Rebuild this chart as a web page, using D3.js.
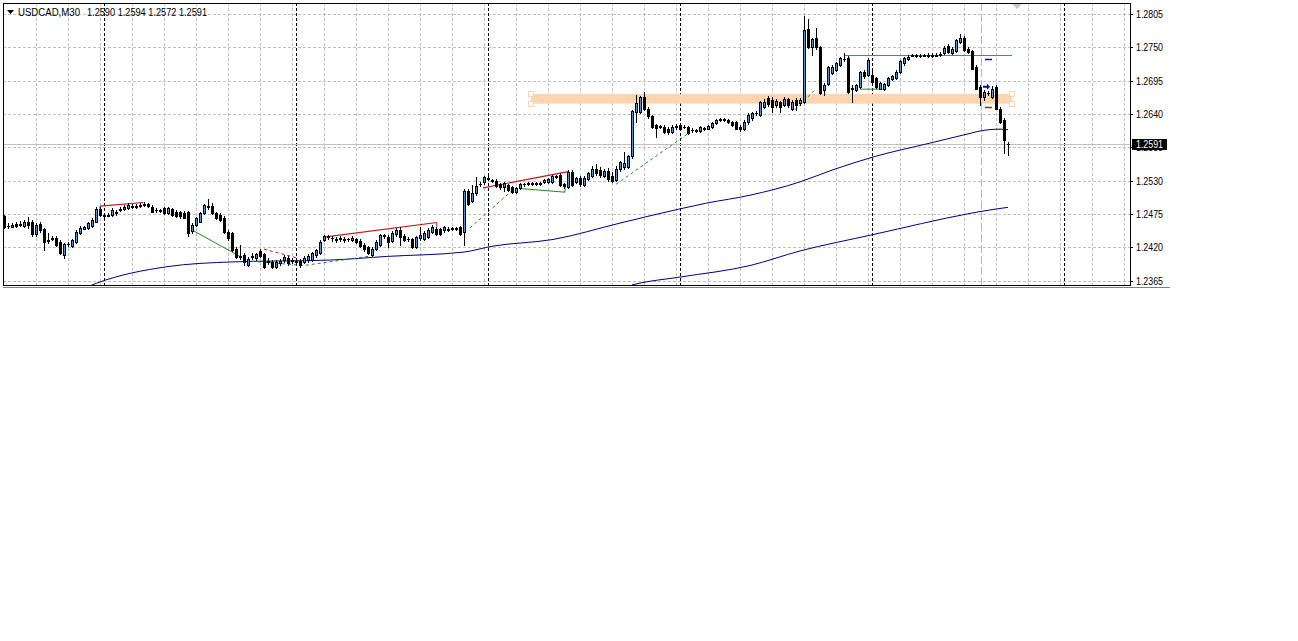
<!DOCTYPE html>
<html>
<head>
<meta charset="utf-8">
<script src="https://cdn.jsdelivr.net/npm/d3@7/dist/d3.min.js"></script>
<style>
  body { margin: 0; background: #fff; }
  svg { display: block; }
  text { font-family: "Liberation Sans", Arial, sans-serif; font-size: 10px; fill: #000; }
</style>
</head>
<body>
<svg id="chart" width="1298" height="641"></svg>
<script>
// USDCAD M30, one row per bar: [open, high, low, close]
const candles = [
  [1.2471,1.2473,1.2452,1.2454],[1.2456,1.2460,1.2452,1.2455],[1.2454,1.2460,1.2453,1.2457],[1.2459,1.2462,1.2454,1.2456],
  [1.2457,1.2463,1.2455,1.2459],[1.2456,1.2465,1.2454,1.2462],[1.2462,1.2470,1.2452,1.2457],[1.2462,1.2465,1.2439,1.2442],
  [1.2442,1.2460,1.2439,1.2457],[1.2458,1.2462,1.2445,1.2449],[1.2450,1.2452,1.2416,1.2429],[1.2432,1.2444,1.2427,1.2431],
  [1.2434,1.2439,1.2432,1.2436],[1.2435,1.2439,1.2422,1.2424],[1.2429,1.2432,1.2409,1.2411],[1.2407,1.2427,1.2403,1.2426],
  [1.2425,1.2429,1.2422,1.2426],[1.2423,1.2434,1.2421,1.2432],[1.2429,1.2449,1.2427,1.2446],[1.2443,1.2455,1.2442,1.2452],
  [1.2451,1.2455,1.2450,1.2454],[1.2452,1.2462,1.2450,1.2460],[1.2456,1.2468,1.2454,1.2465],[1.2462,1.2487,1.2461,1.2484],
  [1.2483,1.2487,1.2472,1.2473],[1.2473,1.2477,1.2470,1.2472],[1.2472,1.2477,1.2471,1.2474],[1.2474,1.2485,1.2472,1.2482],
  [1.2478,1.2482,1.2473,1.2477],[1.2481,1.2487,1.2480,1.2483],[1.2483,1.2490,1.2481,1.2487],[1.2485,1.2493,1.2483,1.2490],
  [1.2489,1.2492,1.2485,1.2487],[1.2487,1.2492,1.2485,1.2488],[1.2488,1.2493,1.2486,1.2490],[1.2490,1.2494,1.2488,1.2491],
  [1.2491,1.2493,1.2487,1.2489],[1.2487,1.2490,1.2478,1.2479],[1.2481,1.2485,1.2478,1.2482],[1.2482,1.2484,1.2478,1.2480],
  [1.2485,1.2487,1.2475,1.2477],[1.2477,1.2487,1.2475,1.2485],[1.2483,1.2485,1.2472,1.2473],[1.2478,1.2482,1.2470,1.2472],
  [1.2478,1.2480,1.2469,1.2471],[1.2477,1.2480,1.2468,1.2469],[1.2478,1.2480,1.2438,1.2443],[1.2447,1.2460,1.2444,1.2457],
  [1.2457,1.2470,1.2455,1.2468],[1.2462,1.2478,1.2461,1.2476],[1.2476,1.2492,1.2475,1.2490],[1.2488,1.2500,1.2483,1.2487],
  [1.2489,1.2493,1.2475,1.2476],[1.2476,1.2478,1.2467,1.2469],[1.2473,1.2477,1.2463,1.2465],[1.2469,1.2472,1.2444,1.2446],
  [1.2446,1.2449,1.2432,1.2435],[1.2443,1.2445,1.2414,1.2416],[1.2418,1.2421,1.2402,1.2404],[1.2405,1.2424,1.2401,1.2404],
  [1.2407,1.2411,1.2391,1.2396],[1.2391,1.2404,1.2389,1.2401],[1.2404,1.2411,1.2401,1.2405],[1.2402,1.2411,1.2399,1.2409],
  [1.2414,1.2417,1.2404,1.2406],[1.2409,1.2411,1.2386,1.2388],[1.2398,1.2402,1.2393,1.2396],[1.2396,1.2399,1.2386,1.2388],
  [1.2388,1.2399,1.2386,1.2396],[1.2394,1.2401,1.2391,1.2398],[1.2399,1.2407,1.2396,1.2404],[1.2403,1.2406,1.2391,1.2394],
  [1.2399,1.2402,1.2394,1.2397],[1.2397,1.2401,1.2393,1.2396],[1.2398,1.2401,1.2388,1.2391],[1.2396,1.2406,1.2394,1.2403],
  [1.2399,1.2409,1.2396,1.2406],[1.2399,1.2412,1.2397,1.2410],[1.2407,1.2417,1.2404,1.2416],[1.2410,1.2432,1.2409,1.2429],
  [1.2432,1.2440,1.2430,1.2438],[1.2437,1.2440,1.2434,1.2438],[1.2436,1.2439,1.2431,1.2435],[1.2434,1.2437,1.2429,1.2432],
  [1.2433,1.2438,1.2430,1.2435],[1.2434,1.2437,1.2429,1.2432],[1.2433,1.2436,1.2430,1.2434],[1.2432,1.2438,1.2430,1.2436],
  [1.2434,1.2435,1.2427,1.2429],[1.2431,1.2433,1.2421,1.2422],[1.2424,1.2427,1.2414,1.2417],[1.2420,1.2422,1.2409,1.2410],
  [1.2407,1.2421,1.2406,1.2418],[1.2417,1.2432,1.2416,1.2429],[1.2424,1.2442,1.2422,1.2440],[1.2438,1.2442,1.2435,1.2440],
  [1.2437,1.2440,1.2421,1.2429],[1.2431,1.2447,1.2429,1.2444],[1.2442,1.2452,1.2439,1.2449],[1.2448,1.2454,1.2424,1.2437],
  [1.2439,1.2442,1.2430,1.2432],[1.2434,1.2437,1.2430,1.2433],[1.2433,1.2435,1.2419,1.2420],[1.2420,1.2439,1.2419,1.2437],
  [1.2435,1.2454,1.2432,1.2440],[1.2434,1.2447,1.2432,1.2443],[1.2437,1.2452,1.2435,1.2449],[1.2446,1.2457,1.2444,1.2453],
  [1.2451,1.2454,1.2440,1.2442],[1.2450,1.2452,1.2440,1.2442],[1.2448,1.2455,1.2445,1.2453],[1.2449,1.2454,1.2447,1.2450],
  [1.2451,1.2454,1.2448,1.2452],[1.2452,1.2454,1.2448,1.2451],[1.2453,1.2455,1.2440,1.2442],[1.2446,1.2516,1.2424,1.2513],
  [1.2513,1.2516,1.2490,1.2492],[1.2497,1.2523,1.2495,1.2509],[1.2509,1.2536,1.2506,1.2521],[1.2524,1.2528,1.2521,1.2525],
  [1.2527,1.2538,1.2525,1.2536],[1.2534,1.2537,1.2531,1.2533],[1.2531,1.2533,1.2528,1.2530],[1.2530,1.2533,1.2520,1.2521],
  [1.2524,1.2526,1.2516,1.2519],[1.2520,1.2528,1.2513,1.2526],[1.2523,1.2525,1.2513,1.2515],[1.2520,1.2522,1.2510,1.2512],
  [1.2512,1.2520,1.2510,1.2518],[1.2518,1.2526,1.2516,1.2524],[1.2524,1.2526,1.2521,1.2525],[1.2526,1.2528,1.2523,1.2525],
  [1.2525,1.2528,1.2523,1.2526],[1.2526,1.2528,1.2523,1.2525],[1.2525,1.2528,1.2523,1.2526],[1.2527,1.2533,1.2526,1.2531],
  [1.2528,1.2534,1.2526,1.2532],[1.2528,1.2539,1.2526,1.2537],[1.2537,1.2540,1.2534,1.2536],[1.2540,1.2543,1.2521,1.2523],
  [1.2524,1.2526,1.2518,1.2521],[1.2520,1.2548,1.2518,1.2544],[1.2545,1.2547,1.2521,1.2523],[1.2528,1.2536,1.2526,1.2534],
  [1.2535,1.2538,1.2521,1.2524],[1.2523,1.2538,1.2521,1.2535],[1.2533,1.2544,1.2531,1.2542],[1.2538,1.2554,1.2536,1.2549],
  [1.2550,1.2558,1.2539,1.2542],[1.2548,1.2553,1.2536,1.2539],[1.2538,1.2549,1.2536,1.2546],[1.2546,1.2551,1.2529,1.2533],
  [1.2537,1.2544,1.2528,1.2530],[1.2531,1.2554,1.2529,1.2550],[1.2549,1.2562,1.2546,1.2560],[1.2552,1.2578,1.2549,1.2559],
  [1.2553,1.2573,1.2551,1.2570],[1.2570,1.2647,1.2567,1.2645],[1.2644,1.2671,1.2627,1.2658],[1.2644,1.2670,1.2641,1.2668],
  [1.2668,1.2676,1.2647,1.2649],[1.2649,1.2652,1.2633,1.2636],[1.2636,1.2638,1.2617,1.2619],[1.2622,1.2624,1.2602,1.2617],
  [1.2619,1.2622,1.2617,1.2620],[1.2619,1.2622,1.2609,1.2611],[1.2616,1.2619,1.2607,1.2610],[1.2611,1.2622,1.2609,1.2619],
  [1.2620,1.2624,1.2616,1.2619],[1.2622,1.2624,1.2614,1.2616],[1.2619,1.2622,1.2617,1.2618],[1.2619,1.2621,1.2607,1.2609],
  [1.2614,1.2617,1.2611,1.2613],[1.2612,1.2616,1.2611,1.2614],[1.2612,1.2620,1.2610,1.2618],[1.2617,1.2619,1.2614,1.2616],
  [1.2616,1.2622,1.2615,1.2620],[1.2619,1.2627,1.2617,1.2625],[1.2625,1.2632,1.2623,1.2630],[1.2630,1.2633,1.2628,1.2631],
  [1.2631,1.2633,1.2628,1.2630],[1.2630,1.2632,1.2625,1.2626],[1.2627,1.2629,1.2620,1.2622],[1.2626,1.2628,1.2615,1.2616],
  [1.2619,1.2622,1.2612,1.2615],[1.2615,1.2630,1.2614,1.2627],[1.2626,1.2642,1.2623,1.2638],[1.2633,1.2643,1.2630,1.2641],
  [1.2641,1.2645,1.2638,1.2642],[1.2638,1.2661,1.2637,1.2659],[1.2652,1.2665,1.2650,1.2660],[1.2666,1.2670,1.2654,1.2657],
  [1.2663,1.2668,1.2643,1.2652],[1.2655,1.2665,1.2652,1.2662],[1.2659,1.2661,1.2643,1.2651],[1.2655,1.2668,1.2653,1.2664],
  [1.2664,1.2666,1.2652,1.2655],[1.2649,1.2663,1.2647,1.2660],[1.2663,1.2666,1.2647,1.2655],[1.2658,1.2666,1.2655,1.2663],
  [1.2660,1.2801,1.2658,1.2778],[1.2780,1.2796,1.2749,1.2751],[1.2751,1.2765,1.2737,1.2763],[1.2765,1.2782,1.2748,1.2750],
  [1.2750,1.2752,1.2673,1.2674],[1.2680,1.2691,1.2671,1.2688],[1.2689,1.2719,1.2688,1.2717],[1.2708,1.2721,1.2706,1.2718],
  [1.2713,1.2726,1.2711,1.2724],[1.2721,1.2734,1.2719,1.2732],[1.2731,1.2740,1.2727,1.2730],[1.2732,1.2736,1.2675,1.2676],
  [1.2682,1.2688,1.2659,1.2683],[1.2680,1.2690,1.2678,1.2688],[1.2685,1.2711,1.2683,1.2709],[1.2710,1.2713,1.2699,1.2702],
  [1.2704,1.2732,1.2703,1.2729],[1.2704,1.2716,1.2691,1.2693],[1.2699,1.2701,1.2683,1.2685],[1.2682,1.2693,1.2681,1.2691],
  [1.2681,1.2691,1.2680,1.2689],[1.2688,1.2701,1.2686,1.2699],[1.2698,1.2704,1.2696,1.2702],[1.2699,1.2713,1.2698,1.2710],
  [1.2710,1.2729,1.2708,1.2727],[1.2724,1.2734,1.2721,1.2732],[1.2731,1.2737,1.2729,1.2734],[1.2736,1.2739,1.2735,1.2737],
  [1.2737,1.2739,1.2734,1.2736],[1.2736,1.2739,1.2734,1.2736],[1.2736,1.2739,1.2735,1.2737],[1.2737,1.2740,1.2734,1.2736],
  [1.2736,1.2740,1.2734,1.2737],[1.2736,1.2741,1.2735,1.2737],[1.2737,1.2742,1.2736,1.2739],[1.2740,1.2752,1.2739,1.2749],
  [1.2753,1.2755,1.2741,1.2743],[1.2740,1.2751,1.2739,1.2748],[1.2744,1.2764,1.2742,1.2762],[1.2759,1.2772,1.2757,1.2766],
  [1.2766,1.2769,1.2744,1.2746],[1.2748,1.2750,1.2741,1.2743],[1.2744,1.2746,1.2714,1.2715],[1.2718,1.2721,1.2681,1.2682],
  [1.2685,1.2688,1.2655,1.2668],[1.2668,1.2679,1.2663,1.2677],[1.2674,1.2678,1.2671,1.2675],[1.2668,1.2686,1.2666,1.2682],
  [1.2685,1.2688,1.2648,1.2649],[1.2649,1.2652,1.2625,1.2627],[1.2630,1.2633,1.2575,1.2597],[1.2590,1.2594,1.2572,1.2591]
];

// price scale labels and levels
const priceTicks = [1.2805, 1.2750, 1.2695, 1.2640, 1.2585, 1.2530, 1.2475, 1.2420, 1.2365];
const bidPrice = 1.2591;
const daySeparators = [25, 73, 121, 169, 217, 265];   // first bar of each day (last one in the shift area)
const gridBars = d3.range(8, 281, 8);

// moving averages, [bar, price]
const maFast = [[22,1.2358],[23.2,1.2361],[40.7,1.2388],[57.25,1.2396],[81.5,1.2399],[95.7,1.2405],[114.75,1.2412],
  [122.25,1.2422],[137.25,1.2433],[154,1.2460],[161.5,1.2472],[175.7,1.2493],[186.5,1.2506],[199,1.2528],
  [207.25,1.2548],[217.25,1.2569],[231.5,1.2592],[241.5,1.2608],[244,1.2612],[249,1.2615],[251,1.2614]];
const maSlow = [[157,1.2358],[159,1.2361],[169,1.2371],[186.5,1.2390],[199,1.2414],[217.25,1.2441],
  [241.5,1.2476],[244,1.2479],[251,1.2486]];

// objects drawn on the chart
const zoneBars = [131.75, 252];
const zonePrices = [1.2657, 1.2673];
const levelGreen = {bars: [210.25, 252], price: 1.2737};
const redLines = [
  [[24,1.2488],[34.8,1.2494]],
  [[80,1.2437],[108.2,1.2461]],
  [[119.75,1.2518],[141,1.2545]]
];
const redTicks = [[24,1.2488,1.2481],[108.2,1.2461,1.2454]];
const redDashed = [[65,1.2417],[73,1.2403]];
const greenSolid = [
  [[46.9,1.2449],[59,1.2405]],
  [[129,1.2517],[140.25,1.2511],[140.25,1.2520]],
  [[214,1.2681],[220.25,1.2681]]
];
const greenDashed = [
  [[62,1.2397],[75,1.2390],[92,1.2406]],
  [[116.5,1.2452],[127.25,1.2515]],
  [[153,1.2524],[171.5,1.2610]],
  [[197.75,1.2647],[202.75,1.2680]]
];
const tradeBars = [245.25, 247];
const tradeLevels = {tp: 1.2731, sl: 1.2651, entry: 1.2685};
const markerBar = 244.25;
const shiftBar = 253.25;
const symbol = "USDCAD,M30";
const ohlcText = "1.2590 1.2594 1.2572 1.2591";

const svg = d3.select("#chart");

const plotL = 3, plotT = 3, plotR = 1130, plotB = 285;
const x = d3.scaleLinear().domain([0, 251]).range([4, 1008]);
const y = d3.scaleLinear().domain([1.2365, 1.2805]).range([280.67, 14]);
const px = v => Math.round(x(v));
const py = v => Math.round(y(v));

svg.append("rect").attr("width", 1298).attr("height", 641).attr("fill", "#fff");

svg.append("defs").append("clipPath").attr("id", "plot")
   .append("rect").attr("x", plotL + 1).attr("y", plotT + 1)
   .attr("width", plotR - plotL - 1).attr("height", plotB - plotT - 1);

const plot = svg.append("g").attr("clip-path", "url(#plot)");

// grid
plot.append("g").selectAll("line").data(priceTicks).join("line")
    .attr("x1", plotL).attr("x2", plotR)
    .attr("y1", d => py(d) + 0.5).attr("y2", d => py(d) + 0.5)
    .attr("stroke", "#c0c0c0").attr("stroke-dasharray", "3,2");
plot.append("g").selectAll("line").data(gridBars).join("line")
    .attr("x1", d => px(d) + 0.5).attr("x2", d => px(d) + 0.5)
    .attr("y1", plotT).attr("y2", plotB)
    .attr("stroke", "#c0c0c0").attr("stroke-dasharray", "3,2");

// day separators
plot.append("g").selectAll("line").data(daySeparators).join("line")
    .attr("x1", d => px(d) + 0.5).attr("x2", d => px(d) + 0.5)
    .attr("y1", plotT).attr("y2", plotB)
    .attr("stroke", "#000").attr("stroke-dasharray", "3,2");

// zone rectangle
plot.append("rect")
    .attr("x", x(zoneBars[0])).attr("width", x(zoneBars[1]) - x(zoneBars[0]))
    .attr("y", y(zonePrices[1])).attr("height", y(zonePrices[0]) - y(zonePrices[1]))
    .attr("fill", "#fcd5b0");
[zoneBars[0], zoneBars[1]].forEach(b => {
  [zonePrices[1], zonePrices[0]].forEach(p => {
    plot.append("rect").attr("x", Math.round(x(b)) - 2.5).attr("y", Math.round(y(p)) - 2.5)
        .attr("width", 5).attr("height", 5)
        .attr("fill", "#fff").attr("stroke", "#fcd5b0");
  });
});

// bid line
plot.append("line").attr("x1", plotL).attr("x2", plotR)
    .attr("y1", py(bidPrice) + 0.5).attr("y2", py(bidPrice) + 0.5)
    .attr("stroke", "#c0c0c0");

// vertical marker line
plot.append("line").attr("x1", px(markerBar) + 0.5).attr("x2", px(markerBar) + 0.5)
    .attr("y1", plotT).attr("y2", plotB)
    .attr("stroke", "#e6a0a0").attr("stroke-dasharray", "8,3");

const line = d3.line().x(d => x(d[0])).y(d => y(d[1]));
const smooth = d3.line().curve(d3.curveMonotoneX).x(d => x(d[0])).y(d => y(d[1]));

// moving averages
[maFast, maSlow].forEach(ma => {
  plot.append("path").datum(ma).attr("d", smooth)
      .attr("fill", "none").attr("stroke", "#000080").attr("stroke-width", 1);
});

// trend lines
plot.append("g").selectAll("path").data(redLines).join("path")
    .attr("d", line).attr("fill", "none").attr("stroke", "#c0161c").attr("stroke-width", 1.2);
plot.append("g").selectAll("line").data(redTicks).join("line")
    .attr("x1", d => x(d[0])).attr("x2", d => x(d[0]))
    .attr("y1", d => y(d[1])).attr("y2", d => y(d[2]))
    .attr("stroke", "#c0161c");
plot.append("path").datum(redDashed).attr("d", line)
    .attr("fill", "none").attr("stroke", "#c0161c").attr("stroke-dasharray", "3,3");
plot.append("g").selectAll("path").data(greenSolid).join("path")
    .attr("d", line).attr("fill", "none").attr("stroke", "#1f8a1f");
plot.append("g").selectAll("path").data(greenDashed).join("path")
    .attr("d", line).attr("fill", "none").attr("stroke", "#1f8a1f").attr("stroke-dasharray", "3,3");

plot.append("line")
    .attr("x1", x(levelGreen.bars[0])).attr("x2", x(levelGreen.bars[1]))
    .attr("y1", py(levelGreen.price) + 0.5).attr("y2", py(levelGreen.price) + 0.5)
    .attr("stroke", "#2e9e5b");

// candles
const bars = plot.append("g").attr("shape-rendering", "crispEdges");
candles.forEach((c, i) => {
  const [o, h, l, cl] = c;
  const cx = px(i);
  const hi = py(h), lo = py(l);
  bars.append("rect").attr("x", cx).attr("y", hi).attr("width", 1).attr("height", lo - hi + 1).attr("fill", "#000");
  const t = py(Math.max(o, cl)), b = py(Math.min(o, cl));
  bars.append("rect").attr("x", cx - 1).attr("y", t).attr("width", 3).attr("height", Math.max(1, b - t + 1)).attr("fill", "#000");
  if (cl > o && b - t >= 2) {
    bars.append("rect").attr("x", cx).attr("y", t + 1).attr("width", 1).attr("height", b - t - 1).attr("fill", "#5b8fd0");
  }
});

// trade markers
plot.append("line").attr("x1", x(tradeBars[0])).attr("x2", x(tradeBars[1]))
    .attr("y1", py(tradeLevels.tp) + 0.5).attr("y2", py(tradeLevels.tp) + 0.5)
    .attr("stroke", "#0000c8").attr("stroke-width", 1.5);
plot.append("line").attr("x1", x(tradeBars[0])).attr("x2", x(tradeBars[1]))
    .attr("y1", py(tradeLevels.sl) + 0.5).attr("y2", py(tradeLevels.sl) + 0.5)
    .attr("stroke", "#e00000").attr("stroke-width", 1.5);
{
  const ax = x(tradeBars[0]), ay = y(tradeLevels.entry);
  plot.append("path")
      .attr("d", `M${ax - 2},${ay - 1}L${ax + 2},${ay - 1}L${ax + 2},${ay - 3}L${ax + 5},${ay}L${ax + 2},${ay + 3}L${ax + 2},${ay + 1}L${ax - 2},${ay + 1}Z`)
      .attr("fill", "#0000e0");
}

// chart shift marker
{
  const sx = x(shiftBar);
  svg.append("path").attr("d", `M${sx - 5},${plotT + 1}L${sx + 5},${plotT + 1}L${sx},${plotT + 6}Z`).attr("fill", "#c8c8c8");
}

// frame
svg.append("rect").attr("x", plotL + 0.5).attr("y", plotT + 0.5)
   .attr("width", plotR - plotL).attr("height", plotB - plotT)
   .attr("fill", "none").attr("stroke", "#000");
svg.append("line").attr("x1", plotL).attr("x2", 1170).attr("y1", plotB + 2.5).attr("y2", plotB + 2.5).attr("stroke", "#808080");

// price axis
const axis = svg.append("g");
axis.selectAll("line").data(priceTicks).join("line")
    .attr("x1", plotR).attr("x2", plotR + 3)
    .attr("y1", d => py(d) + 0.5).attr("y2", d => py(d) + 0.5).attr("stroke", "#000");
axis.selectAll("text").data(priceTicks).join("text")
    .attr("x", plotR + 6).attr("y", d => py(d) + 4)
    .attr("textLength", 27).attr("lengthAdjust", "spacingAndGlyphs")
    .text(d => d.toFixed(4));

// current price tag
const bidY = py(bidPrice);
svg.append("rect").attr("x", plotR + 2).attr("y", bidY - 5).attr("width", 35).attr("height", 11).attr("fill", "#000");
svg.append("text").attr("x", plotR + 6).attr("y", bidY + 4).style("fill", "#fff")
   .attr("textLength", 27).attr("lengthAdjust", "spacingAndGlyphs")
   .text(bidPrice.toFixed(4));

// title
svg.append("path").attr("d", "M7,10L14,10L10.5,14Z").attr("fill", "#000");
svg.append("text").attr("x", 18).attr("y", 16)
   .attr("textLength", 62).attr("lengthAdjust", "spacingAndGlyphs").text(symbol);
svg.append("text").attr("x", 87).attr("y", 16)
   .attr("textLength", 120).attr("lengthAdjust", "spacingAndGlyphs").text(ohlcText);
</script>
</body>
</html>
